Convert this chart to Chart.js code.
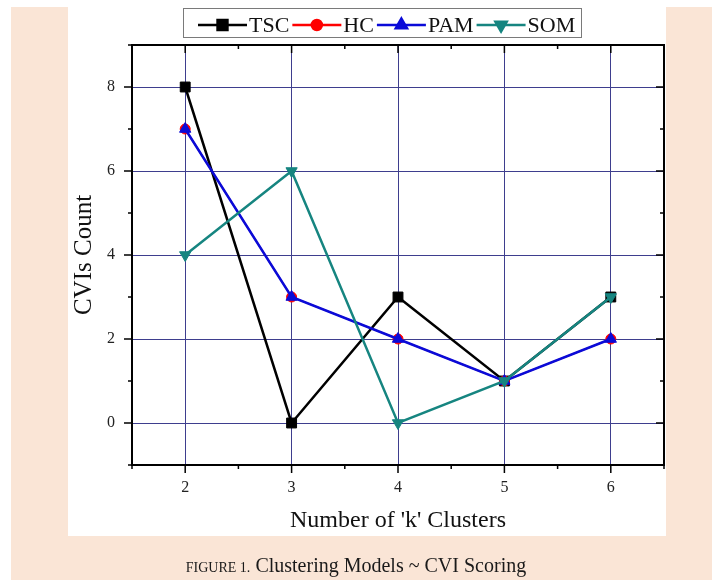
<!DOCTYPE html>
<html>
<head>
<meta charset="utf-8">
<script src="https://cdn.jsdelivr.net/npm/chart.js@4/dist/chart.umd.min.js"></script>
<style>
    html, body { margin: 0; padding: 0; background: #ffffff; }
    body { width: 712px; height: 580px; position: relative; overflow: hidden; font-family: "Liberation Serif", "DejaVu Serif", serif; }
    #peach { position: absolute; left: 11px; top: 7px; width: 701px; height: 573px; background: #fae5d6; }
    #panel { position: absolute; left: 68px; top: 7px; width: 598px; height: 529px; background: #ffffff; }
    #wrap { position: absolute; left: 0; top: 0; width: 712px; height: 580px; }
    #caption { position: absolute; left: 0; width: 712px; top: 553px; text-align: center; color: #1a1a1a; font-size: 20px; line-height: 24px; white-space: nowrap; }
    #caption .small { font-size: 14px; }
</style>
</head>
<body>
<div id="peach"></div>
<div id="panel"></div>
<div id="wrap"><canvas id="cviChart" width="712" height="580"></canvas></div>
<div id="caption"><span class="small">FIGURE 1.</span> Clustering Models ~ CVI Scoring</div>

<script>
// k values on the x axis
const kClusters = [2, 3, 4, 5, 6];

// CVIs count per model
const tscValues = [8, 0, 3, 1, 3];
const hcValues  = [7, 3, 2, 1, 2];
const pamValues = [7, 3, 2, 1, 2];
const somValues = [4, 6, 0, 1, 3];

const seriesNames = ['TSC', 'HC', 'PAM', 'SOM'];
const yTickLabels = [0, 2, 4, 6, 8];
const xTickLabels = [2, 3, 4, 5, 6];

const black = '#000000';
const red = '#ff0000';
const blue = '#0a0ad8';
const teal = '#168580';
const gridBlue = '#3e3e8e';
const serif = '"Liberation Serif", "DejaVu Serif", serif';

function toPoints(values) {
    return kClusters.map((k, i) => ({ x: k, y: values[i] }));
}

function makeSet(label, values, color, style, radius, rotation, order, width) {
    return {
        label: label,
        data: toPoints(values),
        borderColor: color,
        backgroundColor: color,
        borderWidth: width,
        pointStyle: style,
        pointRadius: radius,
        pointRotation: rotation,
        pointBorderWidth: 1,
        pointBackgroundColor: color,
        pointBorderColor: color,
        tension: 0,
        fill: false,
        order: order
    };
}

// ticks + top/right frame, like an Origin plot
const frameTicks = {
    id: 'frameTicks',
    afterDraw(chart) {
        const ctx = chart.ctx;
        const a = chart.chartArea;
        const xs = chart.scales.x;
        const ys = chart.scales.y;
        ctx.save();
        ctx.strokeStyle = black;
        ctx.lineWidth = 2;
        ctx.beginPath();
        ctx.moveTo(a.left, a.top);
        ctx.lineTo(a.right, a.top);
        ctx.lineTo(a.right, a.bottom);
        ctx.stroke();

        ctx.lineWidth = 1.5;
        ctx.beginPath();
        for (let v = -1; v <= 9; v++) {
            const py = ys.getPixelForValue(v);
            const len = v % 2 === 0 ? 8 : 4;
            ctx.moveTo(a.left - len, py);
            ctx.lineTo(a.left, py);
            ctx.moveTo(a.right, py);
            ctx.lineTo(a.right - len, py);
        }
        for (let v = 1.5; v <= 6.5; v += 0.5) {
            const px = xs.getPixelForValue(v);
            const len = Number.isInteger(v) ? 8 : 4;
            ctx.moveTo(px, a.bottom);
            ctx.lineTo(px, a.bottom + len);
            ctx.moveTo(px, a.top);
            ctx.lineTo(px, a.top + len);
        }
        ctx.stroke();
        ctx.restore();
    }
};

// legend drawn as line - marker - line samples inside a box
const sampleLegend = {
    id: 'sampleLegend',
    afterDraw(chart) {
        const ctx = chart.ctx;
        const boxL = 183, boxT = 8, boxR = 581, boxB = 37;
        const cy = 25;
        ctx.save();
        ctx.strokeStyle = '#7a7a7a';
        ctx.lineWidth = 1;
        ctx.strokeRect(boxL + 0.5, boxT + 0.5, boxR - boxL, boxB - boxT);

        ctx.font = '22px ' + serif;
        ctx.textBaseline = 'middle';
        let x = 198;
        chart.data.datasets.forEach(ds => {
            const lineLen = 49;
            ctx.strokeStyle = ds.borderColor;
            ctx.lineWidth = 2.5;
            ctx.beginPath();
            ctx.moveTo(x, cy);
            ctx.lineTo(x + lineLen, cy);
            ctx.stroke();
            Chart.helpers.drawPoint(ctx, {
                pointStyle: ds.pointStyle,
                rotation: ds.pointRotation,
                radius: ds.pointRadius,
                borderWidth: 1
            }, x + lineLen / 2, cy);
            ctx.fillStyle = ds.borderColor;
            ctx.fill();
            x += lineLen + 2;
            ctx.fillStyle = '#111111';
            ctx.fillText(ds.label, x, cy + 1);
            x += ctx.measureText(ds.label).width + 3;
        });
        ctx.restore();
    }
};

const ctx = document.getElementById('cviChart').getContext('2d');
const cviChart = new Chart(ctx, {
    type: 'line',
    data: {
        datasets: [
            makeSet(seriesNames[0], tscValues, black, 'rect', 7, 0, 3, 2.5),
            makeSet(seriesNames[1], hcValues, red, 'circle', 5, 0, 2, 1.5),
            makeSet(seriesNames[2], pamValues, blue, 'triangle', 6.5, 0, 1, 2.5),
            makeSet(seriesNames[3], somValues, teal, 'triangle', 6.5, 180, 0, 2.5)
        ]
    },
    options: {
        responsive: false,
        animation: false,
        layout: { padding: { left: 68, right: 48, top: 45, bottom: 40 } },
        plugins: {
            legend: { display: false },
            tooltip: { enabled: false }
        },
        scales: {
            x: {
                type: 'linear',
                min: 1.5,
                max: 6.5,
                afterFit: s => { s.height = 75; },
                afterBuildTicks: s => { s.ticks = []; for (let v = 1.5; v <= 6.5; v += 0.5) s.ticks.push({ value: v }); },
                grid: {
                    drawTicks: false,
                    lineWidth: 1,
                    color: c => (c.tick && xTickLabels.includes(c.tick.value)) ? gridBlue : 'rgba(0,0,0,0)'
                },
                border: { display: true, color: black, width: 2 },
                ticks: {
                    padding: 13,
                    color: '#222222',
                    font: { family: serif, size: 16 },
                    maxRotation: 0,
                    autoSkip: false,
                    callback: v => xTickLabels.includes(v) ? String(v) : ''
                },
                title: {
                    display: true,
                    text: "Number of 'k' Clusters",
                    color: '#111111',
                    font: { family: serif, size: 24 },
                    padding: { top: 0, bottom: 5 }
                }
            },
            y: {
                type: 'linear',
                min: -1,
                max: 9,
                afterFit: s => { s.width = 64; },
                afterBuildTicks: s => { s.ticks = []; for (let v = -1; v <= 9; v++) s.ticks.push({ value: v }); },
                grid: {
                    drawTicks: false,
                    lineWidth: 1,
                    color: c => (c.tick && yTickLabels.includes(c.tick.value)) ? gridBlue : 'rgba(0,0,0,0)'
                },
                border: { display: true, color: black, width: 2 },
                ticks: {
                    padding: 17,
                    color: '#222222',
                    font: { family: serif, size: 16 },
                    autoSkip: false,
                    callback: v => yTickLabels.includes(v) ? String(v) : ''
                },
                title: {
                    display: true,
                    text: 'CVIs Count',
                    color: '#111111',
                    font: { family: serif, size: 25 },
                    padding: { top: 1, bottom: 0 }
                }
            }
        }
    },
    plugins: [frameTicks, sampleLegend]
});
</script>
</body>
</html>
